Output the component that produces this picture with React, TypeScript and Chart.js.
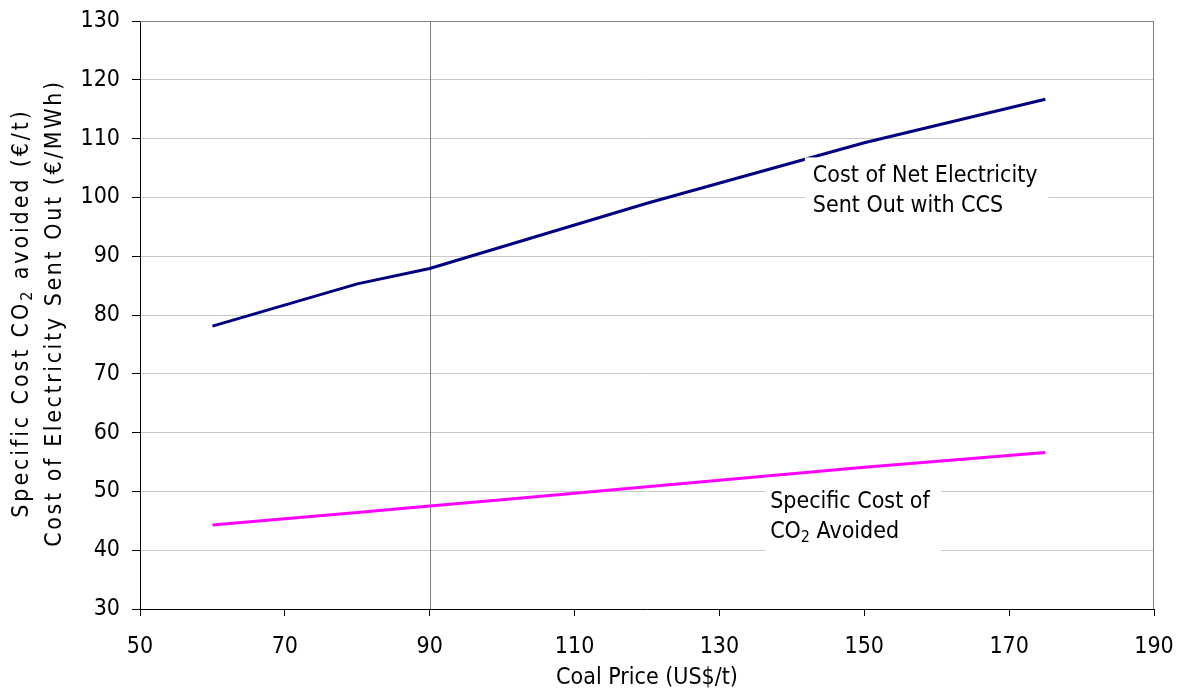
import { useEffect, useRef } from 'react';
import { Chart, registerables } from 'chart.js';

Chart.register(...registerables);

// ---- Data ----
const coalPrice = [60, 80, 90, 100, 120, 150, 175];
const electricityCost = [78.1, 85.3, 87.9, 91.6, 99.0, 109.3, 116.7];
const co2AvoidedCost = [44.3, 46.4, 47.5, 48.6, 50.8, 54.1, 56.6];

const xTickMin = 50;
const xTickMax = 190;
const xTickStep = 20;
const yTickMin = 30;
const yTickMax = 130;
const yTickStep = 10;
const referencePrice = 90;

const seriesNames = ['Cost of Net Electricity Sent Out with CCS', 'Specific Cost of CO2 Avoided'];
const xTitle = 'Coal Price (US$/t)';
// y title pieces: [text, isSubscript]
const yTitleLine1: [string, boolean][] = [['Specific Cost CO', false], ['2', true], [' avoided (\u20ac/t)', false]];
const yTitleLine2: [string, boolean][] = [['Cost of Electricity Sent Out (\u20ac/MWh)', false]];

const FONT = "'DejaVu Sans Condensed', 'DejaVu Sans', sans-serif";
const FS = 23;
const SUB_FS = 16;

function drawPieces(ctx: any, pieces: [string, boolean][], x: number, y: number, spacing: string) {
  ctx.letterSpacing = spacing;
  let total = 0;
  for (const [t, sub] of pieces) {
    ctx.font = `${sub ? SUB_FS : FS}px ${FONT}`;
    total += ctx.measureText(t).width;
  }
  let cx = x - total / 2;
  for (const [t, sub] of pieces) {
    ctx.font = `${sub ? SUB_FS : FS}px ${FONT}`;
    ctx.fillText(t, cx, sub ? y + 6 : y);
    cx += ctx.measureText(t).width;
  }
  ctx.letterSpacing = '0px';
}

const refLinePlugin = {
  id: 'refLine',
  beforeDatasetsDraw(chart: any) {
    const { ctx, chartArea, scales } = chart;
    const x = Math.round(scales.x.getPixelForValue(referencePrice)) + 0.5;
    ctx.save();
    ctx.strokeStyle = '#808080';
    ctx.lineWidth = 1;
    ctx.beginPath();
    ctx.moveTo(x, chartArea.top);
    ctx.lineTo(x, chartArea.bottom);
    ctx.moveTo(chartArea.left, Math.round(chartArea.top) + 0.5);
    ctx.lineTo(chartArea.right, Math.round(chartArea.top) + 0.5);
    ctx.moveTo(Math.round(chartArea.right) - 0.5, chartArea.top);
    ctx.lineTo(Math.round(chartArea.right) - 0.5, chartArea.bottom);
    ctx.stroke();
    ctx.restore();
  },
};

const textPlugin = {
  id: 'texts',
  afterDatasetsDraw(chart: any) {
    const { ctx, scales, chartArea } = chart;
    const xs = scales.x;
    const ys = scales.y;
    ctx.save();
    ctx.font = `${FS}px ${FONT}`;
    ctx.textBaseline = 'middle';
    ctx.textAlign = 'left';

    // Label 1
    {
      const bx = xs.getPixelForValue(141.8);
      const tx = xs.getPixelForValue(142.9);
      const top = ys.getPixelForValue(106.8);
      const bottom = ys.getPixelForValue(96.0);
      const right = xs.getPixelForValue(175.4);
      ctx.fillStyle = '#ffffff';
      ctx.fillRect(bx, top, right - bx, bottom - top);
      ctx.fillStyle = '#000000';
      ctx.fillText('Cost of Net Electricity', tx, ys.getPixelForValue(103.6));
      ctx.fillText('Sent Out with CCS', tx, ys.getPixelForValue(98.5));
    }
    // Label 2
    {
      const bx = xs.getPixelForValue(136.3);
      const tx = xs.getPixelForValue(137.0);
      const top = ys.getPixelForValue(51.6);
      const bottom = ys.getPixelForValue(39.6);
      const right = xs.getPixelForValue(160.6);
      ctx.fillStyle = '#ffffff';
      ctx.fillRect(bx, top, right - bx, bottom - top);
      ctx.fillStyle = '#000000';
      ctx.fillText('Specific Cost of', tx, ys.getPixelForValue(48.2));
      const y2 = ys.getPixelForValue(43.1);
      ctx.fillText('CO', tx, y2);
      const w = ctx.measureText('CO').width;
      ctx.font = `${SUB_FS}px ${FONT}`;
      ctx.fillText('2', tx + w, y2 + 6);
      const w2 = ctx.measureText('2').width;
      ctx.font = `${FS}px ${FONT}`;
      ctx.fillText(' Avoided', tx + w + w2, y2);
    }

    // Y axis title (two rotated lines)
    {
      const cy = (chartArea.top + chartArea.bottom) / 2 - 2;
      ctx.save();
      ctx.translate(22, cy);
      ctx.rotate(-Math.PI / 2);
      ctx.fillStyle = '#000';
      drawPieces(ctx, yTitleLine1, 0, 0, '2.9px');
      ctx.restore();
      ctx.save();
      ctx.translate(55, cy);
      ctx.rotate(-Math.PI / 2);
      ctx.fillStyle = '#000';
      drawPieces(ctx, yTitleLine2, 0, 0, '2.6px');
      ctx.restore();
    }
    ctx.restore();
  },
};

export default function App() {
  const canvasRef = useRef<HTMLCanvasElement | null>(null);

  useEffect(() => {
    document.body.style.margin = '0';
    const canvas = canvasRef.current;
    if (!canvas) return;
    const chart = new Chart(canvas, {
      type: 'line',
      data: {
        datasets: [
          {
            label: seriesNames[0],
            data: coalPrice.map((x, i) => ({ x, y: electricityCost[i] })),
            borderColor: '#000080',
            borderWidth: 3,
            pointRadius: 0,
            tension: 0,
            fill: false,
          },
          {
            label: seriesNames[1],
            data: coalPrice.map((x, i) => ({ x, y: co2AvoidedCost[i] })),
            borderColor: '#ff00ff',
            borderWidth: 3,
            pointRadius: 0,
            tension: 0,
            fill: false,
          },
        ],
      },
      options: {
        animation: false,
        responsive: false,
        devicePixelRatio: 1,
        layout: { padding: { top: 21, right: 27, left: 0, bottom: 0 } },
        plugins: {
          legend: { display: false },
          tooltip: { enabled: false },
        },
        scales: {
          x: {
            type: 'linear',
            min: xTickMin,
            max: xTickMax,
            ticks: {
              stepSize: xTickStep,
              color: '#000',
              font: { family: FONT, size: FS },
              padding: 17,
              maxRotation: 0,
            },
            grid: { drawOnChartArea: false, drawTicks: true, tickLength: 7, tickColor: '#000' },
            border: { color: '#000', width: 1 },
            title: {
              display: true,
              text: xTitle,
              color: '#000',
              font: { family: FONT, size: FS },
              padding: { top: 0, bottom: 0 },
            },
            afterFit: (scale: any) => {
              scale.height = 83;
              scale.paddingLeft = 0;
              scale.paddingRight = 0;
            },
          },
          y: {
            type: 'linear',
            min: yTickMin,
            max: yTickMax,
            ticks: {
              stepSize: yTickStep,
              color: '#000',
              font: { family: FONT, size: FS },
              padding: 12,
            },
            grid: { color: '#c8c8c8', tickColor: '#000', tickLength: 8, drawTicks: true },
            border: { color: '#000', width: 1 },
            title: { display: false },
            afterFit: (scale: any) => {
              scale.width = 140;
              scale.paddingTop = 0;
              scale.paddingBottom = 0;
            },
          },
        },
      } as any,
      plugins: [refLinePlugin, textPlugin],
    });
    return () => chart.destroy();
  }, []);

  return (
    <div style={{ width: 1181, height: 692 }}>
      <canvas ref={canvasRef} width={1181} height={692} />
    </div>
  );
}
